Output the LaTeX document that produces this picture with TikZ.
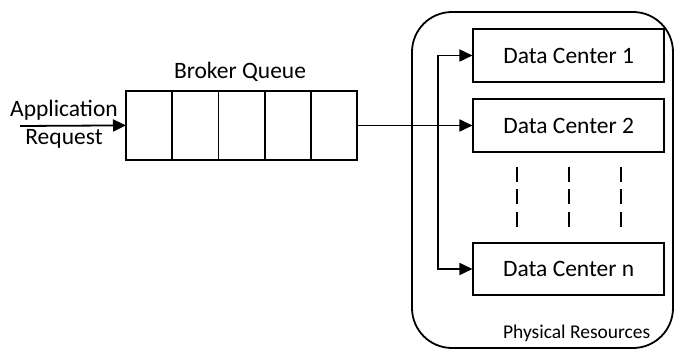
\documentclass[tikz,border=0pt]{standalone}
\usepackage{fontspec}
\setmainfont{Carlito}
\usetikzlibrary{arrows.meta,positioning}

\begin{document}
\begin{tikzpicture}[x=1pt,y=-1pt,>={Triangle[length=13pt,width=12pt]},line width=1.8pt,
  cell/.style={draw,minimum width=46.2pt,minimum height=69.3pt,inner sep=0pt,outer sep=0pt},
  dcbox/.style={draw,minimum width=190.7pt,minimum height=52.4pt,inner sep=0pt,
    font=\fontsize{23.5}{26}\selectfont},
  txt/.style={font=\fontsize{23.5}{28}\selectfont,inner sep=0pt}]
 \useasboundingbox (0,0) rectangle (674,350);
 % queue
 \foreach \i in {1,...,5}
   \node[cell] (q\i) at ({126+46.2*(\i-0.5)},125.4) {};
 \node[txt] (bq) at (240,72) {Broker Queue};
 \node[txt,align=center] (app) at (64,124) {Application\\Request};
 \coordinate (in) at (20,126);
 \draw[->] (in) -- (q1.west);
 % physical resources
 \node[draw,rounded corners=40pt,minimum width=261pt,minimum height=336pt] (res) at (542.5,180) {};
 \node[txt,font=\fontsize{19.5}{22}\selectfont] (pr) at (576.7,333) {Physical Resources};
 \node[dcbox] (dc1) at (568.7,55.5) {Data Center 1};
 \node[dcbox] (dc2) at (568.7,125.5) {Data Center 2};
 \node[dcbox] (dcn) at (568.7,269) {Data Center n};
 \coordinate (split) at (438.3,125.5);
 \draw[->] (q5.east |- dc2.west) -- (dc2.west);
 \draw[->] (split) |- (dc1.west);
 \draw[->] (split) |- (dcn.west);
 \foreach \x in {516.7,569,621}
   \draw[dash pattern=on 15pt off 7.5pt] (\x,166.7) -- (\x,228.3);
\end{tikzpicture}
\end{document}
